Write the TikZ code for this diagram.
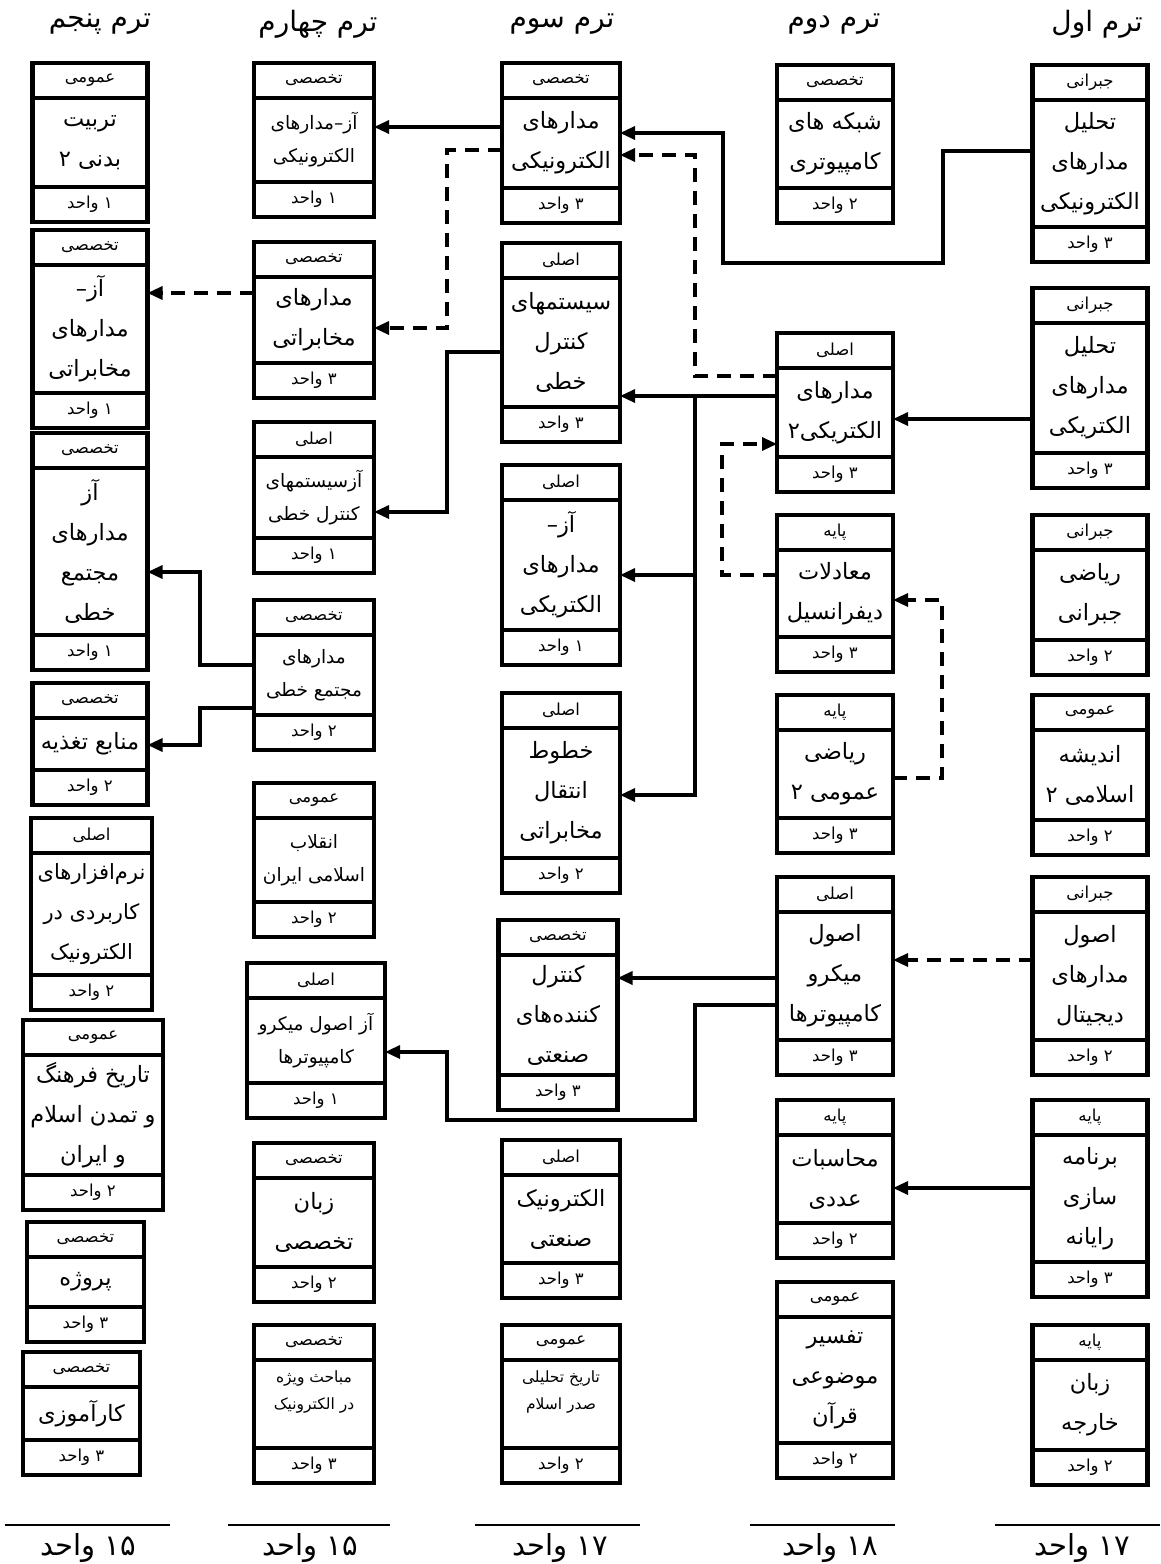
\documentclass[tikz,border=0pt]{standalone}
\usepackage{fontspec}
\usetikzlibrary{positioning,arrows.meta}
\TeXXeTstate=1
\newfontfamily\arabicfont[Script=Arabic]{DejaVu Sans}
\newcommand{\fa}[1]{\beginR#1\endR}
\tikzset{
  box/.style={draw,line width=4.5pt,inner sep=0pt,outer sep=0pt,align=center},
  cathead/.style={box,anchor=north,minimum height=35,font=\arabicfont\fontsize{16.5}{20}\selectfont},
  coursebody/.style={box,font=\arabicfont\fontsize{22.5}{40}\selectfont},
  midbody/.style={font=\arabicfont\fontsize{21}{40}\selectfont},
  smallbody/.style={font=\arabicfont\fontsize{18.5}{33}\selectfont},
  tinybody/.style={font=\arabicfont\fontsize{15.5}{27}\selectfont},
  unitrow/.style={box,minimum height=35,font=\arabicfont\fontsize{16.5}{20}\selectfont},
  termtitle/.style={font=\arabicfont\fontsize{28}{32}\selectfont},
  total/.style={font=\arabicfont\fontsize{29}{32}\selectfont},
  sumline/.style={line width=2.5pt},
  link/.style={line width=3.2pt,-{Triangle[length=15pt,width=13pt]}},
  dlink/.style={link,dash pattern=on 14pt off 9pt},
}
\newcommand{\course}[9][]{%
  \node[cathead,minimum width=#4] (#2c) at (#3,#5) {\fa{#7}};
  \node[coursebody,#1,minimum width=#4,minimum height=#6,below=0pt of #2c] (#2) {#8};
  \node[unitrow,minimum width=#4,below=0pt of #2] (#2u) {\fa{#9 واحد}};
}
\begin{document}
\begin{tikzpicture}[x=1pt,y=-1pt]
  \useasboundingbox (0,0) rectangle (1160,1564);

  \node[termtitle] (t5) at (100,24) {\fa{ترم پنجم}};
  \node[termtitle] (t4) at (318,24) {\fa{ترم چهارم}};
  \node[termtitle] (t3) at (562,24) {\fa{ترم سوم}};
  \node[termtitle] (t2) at (834,24) {\fa{ترم دوم}};
  \node[termtitle] (t1) at (1097,24) {\fa{ترم اول}};

  \course{A1}{1090}{115}{65}{127}{جبرانی}{تحلیل\\مدارهای\\الکترونیکی}{۳}
  \course{A2}{1090}{115}{288}{130}{جبرانی}{تحلیل\\مدارهای\\الکتریکی}{۳}
  \course{A3}{1090}{115}{515}{90}{جبرانی}{ریاضی\\جبرانی}{۲}
  \course{A4}{1090}{115}{695}{90}{عمومی}{اندیشه\\\fa{اسلامی ۲}}{۲}
  \course{A5}{1090}{115}{877}{128}{جبرانی}{اصول\\مدارهای\\دیجیتال}{۲}
  \course{A6}{1090}{115}{1100}{127}{پایه}{برنامه\\سازی\\رایانه}{۳}
  \course{A7}{1090}{115}{1325}{90}{پایه}{زبان\\خارجه}{۲}

  \course{B1}{835}{116}{65}{88}{تخصصی}{\fa{شبکه های}\\کامپیوتری}{۲}
  \course{B2}{835}{116}{333}{89}{اصلی}{مدارهای\\\fa{الکتریکی۲}}{۳}
  \course{B3}{835}{116}{515}{87}{پایه}{معادلات\\دیفرانسیل}{۳}
  \course{B4}{835}{116}{695}{88}{پایه}{ریاضی\\\fa{عمومی ۲}}{۳}
  \course{B5}{835}{116}{877}{128}{اصلی}{اصول\\میکرو\\کامپیوترها}{۳}
  \course{B6}{835}{116}{1100}{88}{پایه}{محاسبات\\عددی}{۲}
  \course{B7}{835}{116}{1282}{126}{عمومی}{تفسیر\\موضوعی\\قرآن}{۲}

  \course{C1}{561}{118}{63}{90}{تخصصی}{مدارهای\\الکترونیکی}{۳}
  \course{C2}{561}{118}{243}{129}{اصلی}{سیستمهای\\کنترل\\خطی}{۳}
  \course{C3}{561}{118}{465}{130}{اصلی}{\fa{آز–}\\مدارهای\\الکتریکی}{۱}
  \course{C4}{561}{118}{693}{130}{اصلی}{خطوط\\انتقال\\مخابراتی}{۲}
  \course{C5}{558}{119}{920}{120}{تخصصی}{کنترل\\کننده‌های\\صنعتی}{۳}
  \course{C6}{561}{118}{1140}{88}{اصلی}{الکترونیک\\صنعتی}{۳}
  \course[tinybody]{C7}{561}{118}{1325}{88}{عمومی}{\fa{تاریخ تحلیلی}\\\fa{صدر اسلام}\\~}{۲}

  \course[smallbody]{D1}{314}{120}{63}{84}{تخصصی}{\fa{آز–مدارهای}\\الکترونیکی}{۱}
  \course{D2}{314}{120}{242}{86}{تخصصی}{مدارهای\\مخابراتی}{۳}
  \course[smallbody]{D3}{314}{120}{422}{81}{اصلی}{آزسیستمهای\\\fa{کنترل خطی}}{۱}
  \course[smallbody]{D4}{314}{120}{600}{80}{تخصصی}{مدارهای\\\fa{مجتمع خطی}}{۲}
  \course[smallbody]{D5}{314}{120}{783}{84}{عمومی}{انقلاب\\\fa{اسلامی ایران}}{۲}
  \course[smallbody]{D6}{316}{138}{963}{85}{اصلی}{\fa{آز اصول میکرو}\\کامپیوترها}{۱}
  \course{D7}{314}{120}{1143}{89}{تخصصی}{زبان\\تخصصی}{۲}
  \course[tinybody]{D8}{314}{120}{1325}{88}{تخصصی}{\fa{مباحث ویژه}\\\fa{در الکترونیک}\\~}{۳}

  \course{E1}{90}{115}{63}{89}{عمومی}{تربیت\\\fa{بدنی ۲}}{۱}
  \course{E2}{90}{115}{230}{128}{تخصصی}{\fa{آز–}\\مدارهای\\مخابراتی}{۱}
  \course{E3}{90}{115}{433}{167}{تخصصی}{آز\\مدارهای\\مجتمع\\خطی}{۱}
  \course{E4}{90}{115}{683}{52}{تخصصی}{\fa{منابع تغذیه}}{۲}
  \course[midbody]{E5}{91.5}{121}{818}{122}{اصلی}{نرم‌افزارهای\\\fa{کاربردی در}\\الکترونیک}{۲}
  \course{E6}{93}{140}{1020}{120}{عمومی}{\fa{تاریخ فرهنگ}\\\fa{و تمدن اسلام}\\\fa{و ایران}}{۲}
  \course{E7}{85.5}{117}{1222}{50}{تخصصی}{پروژه}{۳}
  \course{E8}{81.5}{117}{1352}{53}{تخصصی}{کارآموزی}{۳}

  \draw[link] (A1.west |- 0,151) -- (943,151) -- (943,263) -- (723,263) -- (723,133) -- (C1.east |- 0,133);
  \draw[dlink] (B2.west |- 0,376) -- (695,376) -- (695,155) -- (C1.east |- 0,155);
  \draw[link] (A2.west |- 0,419) -- (B2.east |- 0,419);
  \draw[link] (B2.west |- 0,396) -- (C2.east |- 0,396);
  \coordinate (fork) at (695,396);
  \draw[link] (fork) -- (695,795) -- (C4.east |- 0,795);
  \draw[link] (695,575) -- (C3.east |- 0,575);
  \draw[dlink] (B3.west |- 0,575) -- (722,575) -- (722,444) -- (B2.west |- 0,444);
  \draw[dlink] (B4.east |- 0,778) -- (942,778) -- (942,600) -- (B3.east |- 0,600);
  \draw[dlink] (A5.west |- 0,960) -- (B5.east |- 0,960);
  \draw[link] (B5.west |- 0,978) -- (C5.east |- 0,978);
  \draw[link] (B5.west |- 0,1005) -- (695,1005) -- (695,1120) -- (447,1120) -- (447,1052) -- (D6.east |- 0,1052);
  \draw[link] (A6.west |- 0,1188) -- (B6.east |- 0,1188);
  \draw[link] (C1.west |- 0,127) -- (D1.east |- 0,127);
  \draw[dlink] (C1.west |- 0,150) -- (447,150) -- (447,328) -- (D2.east |- 0,328);
  \draw[link] (C2.west |- 0,352) -- (447,352) -- (447,512) -- (D3.east |- 0,512);
  \draw[dlink] (D2.west |- 0,293) -- (E2.east |- 0,293);
  \draw[link] (D4.west |- 0,665) -- (200,665) -- (200,572) -- (E3.east |- 0,572);
  \draw[link] (D4.west |- 0,708) -- (200,708) -- (200,745) -- (E4.east |- 0,745);

  \draw[sumline] (5,1525) -- (170,1525);
  \draw[sumline] (228,1525) -- (390,1525);
  \draw[sumline] (475,1525) -- (640,1525);
  \draw[sumline] (750,1525) -- (895,1525);
  \draw[sumline] (995,1525) -- (1160,1525);
  \node[total] (sum5) at (88,1548) {\fa{۱۵ واحد}};
  \node[total] (sum4) at (310,1548) {\fa{۱۵ واحد}};
  \node[total] (sum3) at (560,1548) {\fa{۱۷ واحد}};
  \node[total] (sum2) at (830,1548) {\fa{۱۸ واحد}};
  \node[total] (sum1) at (1082,1548) {\fa{۱۷ واحد}};
\end{tikzpicture}
\end{document}
